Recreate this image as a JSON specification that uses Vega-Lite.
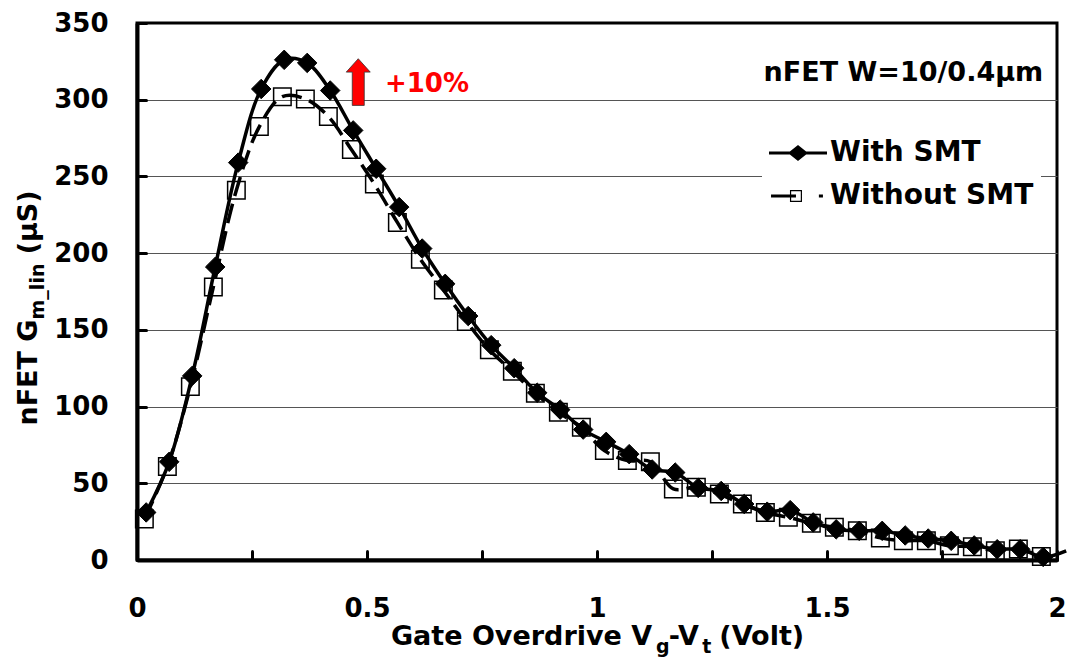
{
  "$schema": "https://vega.github.io/schema/vega-lite/v6.json",
  "width": 920,
  "height": 537,
  "autosize": {"type": "none"},
  "padding": {"left": 137, "top": 23, "right": 15, "bottom": 97},
  "background": "white",
  "config": {
    "font": "DejaVu Sans",
    "view": {"stroke": "black", "strokeWidth": 3},
    "axis": {
      "title": null,
      "domainColor": "black",
      "domainWidth": 4,
      "tickColor": "black",
      "tickWidth": 3,
      "tickCap": "round",
      "tickSize": -9,
      "labelFont": "DejaVu Sans",
      "labelFontSize": 26,
      "labelFontWeight": "bold",
      "labelColor": "black",
      "labelOverlap": false,
      "labelFlush": false
    },
    "text": {"font": "DejaVu Sans", "fontWeight": "bold", "color": "black", "align": "left", "baseline": "alphabetic"}
  },
  "datasets": {
    "gm": [
      {"series": "With SMT", "vov": 0.02, "gm": 31},
      {"series": "With SMT", "vov": 0.07, "gm": 64},
      {"series": "With SMT", "vov": 0.12, "gm": 120},
      {"series": "With SMT", "vov": 0.17, "gm": 191},
      {"series": "With SMT", "vov": 0.22, "gm": 259},
      {"series": "With SMT", "vov": 0.27, "gm": 307},
      {"series": "With SMT", "vov": 0.32, "gm": 326},
      {"series": "With SMT", "vov": 0.37, "gm": 324},
      {"series": "With SMT", "vov": 0.42, "gm": 306},
      {"series": "With SMT", "vov": 0.47, "gm": 280},
      {"series": "With SMT", "vov": 0.52, "gm": 255},
      {"series": "With SMT", "vov": 0.57, "gm": 230},
      {"series": "With SMT", "vov": 0.62, "gm": 203},
      {"series": "With SMT", "vov": 0.67, "gm": 180},
      {"series": "With SMT", "vov": 0.72, "gm": 159},
      {"series": "With SMT", "vov": 0.77, "gm": 140},
      {"series": "With SMT", "vov": 0.82, "gm": 125},
      {"series": "With SMT", "vov": 0.87, "gm": 109},
      {"series": "With SMT", "vov": 0.92, "gm": 98},
      {"series": "With SMT", "vov": 0.97, "gm": 85},
      {"series": "With SMT", "vov": 1.02, "gm": 77},
      {"series": "With SMT", "vov": 1.07, "gm": 69},
      {"series": "With SMT", "vov": 1.12, "gm": 59},
      {"series": "With SMT", "vov": 1.17, "gm": 57},
      {"series": "With SMT", "vov": 1.22, "gm": 47},
      {"series": "With SMT", "vov": 1.27, "gm": 45},
      {"series": "With SMT", "vov": 1.32, "gm": 36.5},
      {"series": "With SMT", "vov": 1.37, "gm": 31.5},
      {"series": "With SMT", "vov": 1.42, "gm": 32.5},
      {"series": "With SMT", "vov": 1.47, "gm": 24.5},
      {"series": "With SMT", "vov": 1.52, "gm": 20},
      {"series": "With SMT", "vov": 1.57, "gm": 19},
      {"series": "With SMT", "vov": 1.62, "gm": 19},
      {"series": "With SMT", "vov": 1.67, "gm": 16},
      {"series": "With SMT", "vov": 1.72, "gm": 14},
      {"series": "With SMT", "vov": 1.77, "gm": 12.5},
      {"series": "With SMT", "vov": 1.82, "gm": 9.5},
      {"series": "With SMT", "vov": 1.87, "gm": 7},
      {"series": "With SMT", "vov": 1.92, "gm": 7},
      {"series": "With SMT", "vov": 1.97, "gm": 2},
      {"series": "With SMT", "vov": 2.02, "gm": 6},
      {"series": "Without SMT", "vov": 0.016, "gm": 26.7},
      {"series": "Without SMT", "vov": 0.066, "gm": 61},
      {"series": "Without SMT", "vov": 0.116, "gm": 113},
      {"series": "Without SMT", "vov": 0.166, "gm": 178},
      {"series": "Without SMT", "vov": 0.216, "gm": 241},
      {"series": "Without SMT", "vov": 0.266, "gm": 282.5},
      {"series": "Without SMT", "vov": 0.316, "gm": 302},
      {"series": "Without SMT", "vov": 0.366, "gm": 300.5},
      {"series": "Without SMT", "vov": 0.416, "gm": 289},
      {"series": "Without SMT", "vov": 0.466, "gm": 267.5},
      {"series": "Without SMT", "vov": 0.516, "gm": 245},
      {"series": "Without SMT", "vov": 0.566, "gm": 220},
      {"series": "Without SMT", "vov": 0.616, "gm": 196},
      {"series": "Without SMT", "vov": 0.666, "gm": 176},
      {"series": "Without SMT", "vov": 0.716, "gm": 155.5},
      {"series": "Without SMT", "vov": 0.766, "gm": 137},
      {"series": "Without SMT", "vov": 0.816, "gm": 123},
      {"series": "Without SMT", "vov": 0.866, "gm": 108.7},
      {"series": "Without SMT", "vov": 0.916, "gm": 96.3},
      {"series": "Without SMT", "vov": 0.966, "gm": 86.5},
      {"series": "Without SMT", "vov": 1.016, "gm": 71.3},
      {"series": "Without SMT", "vov": 1.066, "gm": 64.8},
      {"series": "Without SMT", "vov": 1.116, "gm": 64},
      {"series": "Without SMT", "vov": 1.166, "gm": 46.3},
      {"series": "Without SMT", "vov": 1.216, "gm": 47.4},
      {"series": "Without SMT", "vov": 1.266, "gm": 43},
      {"series": "Without SMT", "vov": 1.316, "gm": 36.5},
      {"series": "Without SMT", "vov": 1.366, "gm": 31},
      {"series": "Without SMT", "vov": 1.416, "gm": 27.8},
      {"series": "Without SMT", "vov": 1.466, "gm": 24},
      {"series": "Without SMT", "vov": 1.516, "gm": 21.3},
      {"series": "Without SMT", "vov": 1.566, "gm": 19},
      {"series": "Without SMT", "vov": 1.616, "gm": 14.4},
      {"series": "Without SMT", "vov": 1.666, "gm": 12.6},
      {"series": "Without SMT", "vov": 1.716, "gm": 12.6},
      {"series": "Without SMT", "vov": 1.766, "gm": 9.3},
      {"series": "Without SMT", "vov": 1.816, "gm": 8.7},
      {"series": "Without SMT", "vov": 1.866, "gm": 6},
      {"series": "Without SMT", "vov": 1.916, "gm": 7.2},
      {"series": "Without SMT", "vov": 1.966, "gm": 2.3}
    ]
  },
  "layer": [
    {
      "data": {"name": "gm"},
      "transform": [{"filter": "datum.series === 'Without SMT'"}],
      "mark": {"type": "line", "color": "black", "strokeWidth": 3.5, "strokeDash": [20, 8], "interpolate": "catmull-rom"},
      "encoding": {
        "x": {
          "field": "vov",
          "type": "quantitative",
          "scale": {"domain": [0, 2], "nice": false, "zero": false},
          "axis": {
            "title": null,
            "values": [0, 0.25, 0.5, 0.75, 1, 1.25, 1.5, 1.75, 2],
            "format": "~g",
            "labelExpr": "datum.value % 0.5 === 0 ? datum.label : ''",
            "labelPadding": 44,
            "grid": false
          }
        },
        "y": {
          "field": "gm",
          "type": "quantitative",
          "scale": {"domain": [0, 350], "nice": false},
          "axis": {
            "title": null,
            "values": [0, 25, 50, 75, 100, 125, 150, 175, 200, 225, 250, 275, 300, 325, 350],
            "format": "d",
            "labelExpr": "datum.value % 50 === 0 ? datum.label : ''",
            "labelPadding": 38,
            "grid": true,
            "gridColor": "#555555",
            "gridWidth": 1.2,
            "gridOpacity": {"condition": {"test": "datum.value % 50 === 0 && datum.value > 0 && datum.value < 350", "value": 1}, "value": 0}
          }
        }
      }
    },
    {
      "data": {"name": "gm"},
      "transform": [{"filter": "datum.series === 'Without SMT'"}],
      "mark": {"type": "point", "shape": "square", "filled": false, "stroke": "black", "strokeWidth": 1.5, "size": 306, "opacity": 1},
      "encoding": {
        "x": {"field": "vov", "type": "quantitative"},
        "y": {"field": "gm", "type": "quantitative"}
      }
    },
    {
      "data": {"name": "gm"},
      "transform": [{"filter": "datum.series === 'With SMT'"}],
      "mark": {"type": "line", "color": "black", "strokeWidth": 3.5, "interpolate": "catmull-rom"},
      "encoding": {
        "x": {"field": "vov", "type": "quantitative"},
        "y": {"field": "gm", "type": "quantitative"}
      }
    },
    {
      "data": {"name": "gm"},
      "transform": [{"filter": "datum.series === 'With SMT' && datum.vov <= 2"}],
      "mark": {"type": "point", "shape": "diamond", "filled": true, "fill": "black", "stroke": "black", "strokeWidth": 1, "size": 380, "opacity": 1},
      "encoding": {
        "x": {"field": "vov", "type": "quantitative"},
        "y": {"field": "gm", "type": "quantitative"}
      }
    },
    {
      "data": {"name": "gm"},
      "transform": [{"filter": "false"}],
      "mark": {"type": "point", "filled": true, "color": "black", "opacity": 1},
      "encoding": {
        "x": {"field": "vov", "type": "quantitative"},
        "y": {"field": "gm", "type": "quantitative"},
        "shape": {
          "field": "series",
          "type": "nominal",
          "scale": {
            "domain": ["With SMT", "Without SMT"],
            "range": [
              "M-1,-0.052H1V0.052H-1ZM0,-0.276L0.345,0L0,0.276L-0.345,0Z",
              "M-0.93,-0.052H-0.07V0.052H-0.93ZM-0.277,-0.207H0.137V0.207H-0.277ZM-0.236,-0.166V0.166H0.096V-0.166ZM0.72,-0.052H0.86V0.052H0.72Z"
            ]
          },
          "legend": {
            "title": null,
            "orient": "none",
            "legendX": 625,
            "legendY": 94,
            "fillColor": "white",
            "padding": 7,
            "symbolSize": 3364,
            "symbolFillColor": "black",
            "symbolStrokeWidth": 0,
            "symbolOpacity": 1,
            "labelOffset": 3,
            "rowPadding": -26,
            "labelFont": "DejaVu Sans",
            "labelFontSize": 28,
            "labelFontWeight": "bold",
            "labelColor": "black",
            "labelLimit": 0
          }
        }
      }
    },
    {
      "data": {"values": [{}]},
      "mark": {"type": "point", "shape": "M0,-1L0.514,-0.426L0.257,-0.426L0.257,1L-0.257,1L-0.257,-0.426L-0.514,-0.426Z", "filled": true, "fill": "#ff0000", "stroke": "#333333", "strokeWidth": 0.8, "size": 2181, "opacity": 1},
      "encoding": {"x": {"datum": 0.481, "type": "quantitative"}, "y": {"datum": 311.5, "type": "quantitative"}}
    },
    {
      "data": {"values": [{}]},
      "mark": {"type": "text", "text": "+10%", "color": "#ff0000", "fontSize": 26},
      "encoding": {"x": {"datum": 0.539, "type": "quantitative"}, "y": {"datum": 304.9, "type": "quantitative"}}
    },
    {
      "data": {"values": [{}]},
      "mark": {"type": "text", "text": "nFET W=10/0.4µm", "fontSize": 27, "align": "right"},
      "encoding": {"x": {"datum": 1.97, "type": "quantitative"}, "y": {"datum": 312, "type": "quantitative"}}
    },
    {
      "data": {"values": [{}]},
      "mark": {"type": "text", "text": "Gate Overdrive V", "fontSize": 27},
      "encoding": {"x": {"datum": 0.552, "type": "quantitative"}, "y": {"datum": -55.5, "type": "quantitative"}}
    },
    {
      "data": {"values": [{}]},
      "mark": {"type": "text", "text": "g", "fontSize": 19},
      "encoding": {"x": {"datum": 1.128, "type": "quantitative"}, "y": {"datum": -60.4, "type": "quantitative"}}
    },
    {
      "data": {"values": [{}]},
      "mark": {"type": "text", "text": "-V", "fontSize": 27},
      "encoding": {"x": {"datum": 1.156, "type": "quantitative"}, "y": {"datum": -55.5, "type": "quantitative"}}
    },
    {
      "data": {"values": [{}]},
      "mark": {"type": "text", "text": "t", "fontSize": 19},
      "encoding": {"x": {"datum": 1.229, "type": "quantitative"}, "y": {"datum": -60.4, "type": "quantitative"}}
    },
    {
      "data": {"values": [{}]},
      "mark": {"type": "text", "text": "(Volt)", "fontSize": 27},
      "encoding": {"x": {"datum": 1.266, "type": "quantitative"}, "y": {"datum": -55.5, "type": "quantitative"}}
    },
    {
      "data": {"values": [{}]},
      "mark": {"type": "text", "text": "nFET G", "angle": 270, "fontSize": 27},
      "encoding": {"x": {"datum": -0.2173, "type": "quantitative"}, "y": {"datum": 87.6, "type": "quantitative"}}
    },
    {
      "data": {"values": [{}]},
      "mark": {"type": "text", "text": "m_lin", "angle": 270, "dy": 7, "fontSize": 19},
      "encoding": {"x": {"datum": -0.2173, "type": "quantitative"}, "y": {"datum": 156.8, "type": "quantitative"}}
    },
    {
      "data": {"values": [{}]},
      "mark": {"type": "text", "text": "(µS)", "angle": 270, "fontSize": 27},
      "encoding": {"x": {"datum": -0.2173, "type": "quantitative"}, "y": {"datum": 199.2, "type": "quantitative"}}
    }
  ]
}
